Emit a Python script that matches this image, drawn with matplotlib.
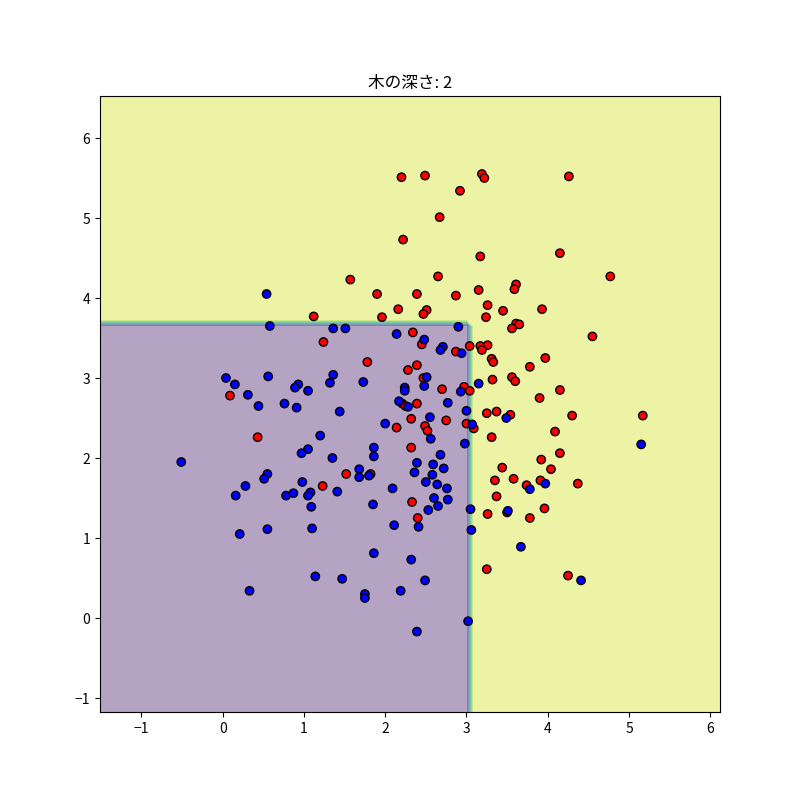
import numpy as np
import matplotlib
matplotlib.use('Agg')
import matplotlib.pyplot as plt

plt.rcParams['font.family'] = ['Noto Sans CJK JP', 'DejaVu Sans']

#==============================================================================
# data: class 1 (red) and class 0 (blue)
red_x = [2.20, 2.49, 3.19, 3.22, 4.26, 2.92, 2.67, 4.15, 2.22, 3.17,
         1.57, 2.65, 4.77, 1.90, 2.39, 2.87, 3.15, 3.61, 3.59, 3.26,
         3.45, 3.93, 2.51, 2.47, 2.16, 1.96, 3.24, 1.12, 3.61, 3.65,
         3.56, 4.55, 3.97, 3.78, 3.56, 3.60, 4.15, 3.90, 3.54, 4.30,
         5.17, 4.09, 4.15, 3.92, 3.44, 4.04, 3.58, 3.74, 3.91, 4.37,
         3.37, 3.50, 3.78, 3.96, 4.25, 2.34, 2.45, 2.87, 3.04, 3.17,
         3.26, 3.19, 3.31, 3.33, 1.78, 2.39, 2.28, 2.47, 2.70, 2.97,
         3.04, 3.32, 2.21, 2.25, 2.39, 3.25, 3.37, 2.32, 2.75, 3.00,
         3.09, 2.14, 2.49, 2.52, 3.31, 2.32, 1.52, 1.82, 3.35, 2.33,
         2.40, 3.26, 3.25, 1.24, 0.09, 0.43, 1.23]
red_y = [5.51, 5.53, 5.55, 5.50, 5.52, 5.34, 5.01, 4.56, 4.73, 4.52,
         4.23, 4.27, 4.27, 4.05, 4.05, 4.03, 4.10, 4.17, 4.11, 3.91,
         3.84, 3.86, 3.85, 3.80, 3.86, 3.76, 3.76, 3.77, 3.68, 3.67,
         3.62, 3.52, 3.25, 3.14, 3.01, 2.96, 2.85, 2.75, 2.54, 2.53,
         2.53, 2.33, 2.06, 1.98, 1.88, 1.86, 1.74, 1.66, 1.72, 1.68,
         1.52, 1.32, 1.25, 1.37, 0.53, 3.57, 3.42, 3.33, 3.40, 3.40,
         3.41, 3.35, 3.24, 3.20, 3.20, 3.16, 3.10, 3.00, 2.86, 2.89,
         2.84, 2.98, 2.68, 2.65, 2.68, 2.56, 2.58, 2.49, 2.47, 2.43,
         2.37, 2.38, 2.40, 2.34, 2.26, 2.13, 1.80, 1.80, 1.72, 1.45,
         1.25, 1.30, 0.61, 3.45, 2.78, 2.26, 1.65]

blue_x = [0.54, 0.58, 1.36, 1.51, 2.90, 2.14, 2.48, 2.71, 2.68, 2.94,
          1.36, 1.32, 1.73, 2.51, 2.48, 2.24, 2.24, 2.93, 3.15, 2.17,
          2.28, 2.77, 1.44, 3.00, 3.07, 2.55, 2.00, 2.56, 2.98, 1.86,
          1.86, 1.35, 2.68, 2.39, 2.59, 2.72, 2.36, 2.58, 1.68, 1.68,
          1.80, 1.41, 2.09, 2.50, 2.64, 2.76, 2.60, 2.77, 1.85, 2.53,
          2.65, 2.11, 2.41, 3.05, 3.06, 1.86, 2.32, 1.47, 2.49, 2.19,
          1.75, 1.75, 3.02, 2.39, 1.09, 0.55, 0.21, 1.10, 1.14, 0.33,
          0.04, 0.15, 0.31, 0.56, 0.44, 0.93, 0.89, 1.05, 0.76, 0.91,
          1.20, -0.51, 1.05, 0.97, 0.55, 0.51, 0.28, 0.98, 0.16, 0.78,
          0.87, 1.08, 1.05, 3.51, 3.67, 4.41, 3.49, 5.15, 3.78, 3.97]
blue_y = [4.05, 3.65, 3.62, 3.62, 3.64, 3.55, 3.48, 3.39, 3.35, 3.31,
          3.04, 2.94, 2.95, 3.01, 2.90, 2.88, 2.84, 2.83, 2.93, 2.71,
          2.64, 2.69, 2.58, 2.59, 2.42, 2.51, 2.43, 2.24, 2.18, 2.13,
          2.02, 2.00, 2.04, 1.94, 1.92, 1.87, 1.82, 1.79, 1.86, 1.76,
          1.78, 1.58, 1.62, 1.70, 1.67, 1.62, 1.50, 1.48, 1.42, 1.35,
          1.40, 1.16, 1.14, 1.36, 1.10, 0.81, 0.73, 0.49, 0.47, 0.34,
          0.30, 0.25, -0.04, -0.17, 1.39, 1.11, 1.05, 1.12, 0.52, 0.34,
          3.00, 2.92, 2.79, 3.02, 2.65, 2.92, 2.88, 2.84, 2.68, 2.63,
          2.28, 1.95, 2.11, 2.06, 1.80, 1.74, 1.65, 1.70, 1.53, 1.53,
          1.56, 1.57, 1.53, 1.34, 0.89, 0.47, 2.50, 2.17, 1.61, 1.68]

# depth-2 tree splits as seen in the picture
split_x = 3.03
split_y = 3.685
depth = 2
#==============================================================================

X = np.column_stack([red_x + blue_x, red_y + blue_y])
y = np.array([1] * len(red_x) + [0] * len(blue_x))

x_min, x_max = -1.51, 6.12
y_min, y_max = -1.175, 6.525
# grid a little wider than the axes, clipped by the limits below
xx, yy = np.meshgrid(np.linspace(-1.547, 6.16, 101),
                     np.linspace(y_min, y_max, 100))
Z = ((xx > split_x) | (yy > split_y)).astype(int)

fig, ax = plt.subplots(figsize=(8, 8), dpi=100)
ax.contourf(xx, yy, Z, alpha=0.4)
ax.scatter(X[:, 0], X[:, 1], c=y, cmap='bwr', edgecolors='k')
ax.set_xlim(x_min, x_max)
ax.set_ylim(y_min, y_max)
ax.set_title('木の深さ: ' + str(depth))
plt.savefig('out.png')
